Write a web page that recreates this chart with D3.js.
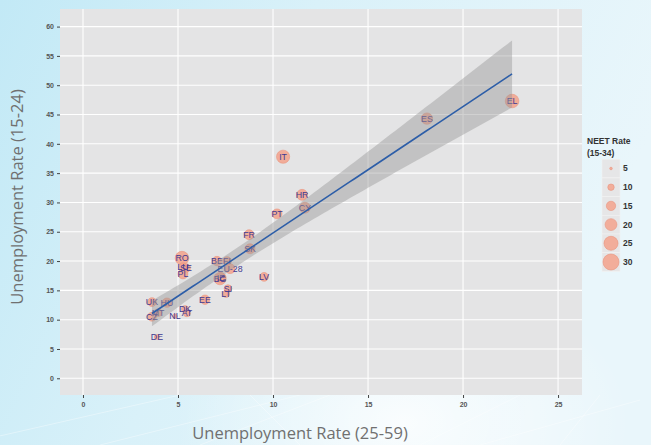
<!DOCTYPE html>
<html><head><meta charset="utf-8">
<script src="https://cdn.jsdelivr.net/npm/d3@7"></script>
<style>html,body{margin:0;padding:0;overflow:hidden}svg{display:block}</style>
</head><body>
<svg id="chart" width="651" height="445"></svg>
<script>
// ---- data ----
const countries = ["EL","ES","IT","HR","CY","PT","FR","SK","RO","BE","FI","EU-28","LU","SE","PL","BG","IE","LV","SI","LT","EE","UK","HU","DK","AT","NL","MT","CZ","DE"];
const adultRate = [22.58,18.1,10.53,11.53,11.68,10.21,8.74,8.79,5.21,7.05,7.58,7.74,5.26,5.42,5.26,7.21,7.26,9.53,7.63,7.53,6.42,3.63,4.42,5.37,5.47,4.84,3.95,3.63,3.89];
const youthRate = [47.3,44.3,37.8,31.3,29.1,28.05,24.5,22.1,20.5,20.0,20.0,18.7,19.0,18.8,17.8,17.0,17.2,17.3,15.3,14.4,13.4,13.0,12.9,11.8,11.1,10.6,11.2,10.5,7.05];
const neetRate  = [24,19,23,18,18,16,16,16,24,15,14,16,13,14,16,21,16,14,12,11,15,14,15,11,11,7,12,14,8];
const xTickValues = [0,5,10,15,20,25];
const yTickValues = [0,5,10,15,20,25,30,35,40,45,50,55,60];
const legendValues = [5,10,15,20,25,30];

const svg = d3.select("#chart");
const W = 651, H = 445;

// background
const defs = svg.append("defs");
const g1 = defs.append("linearGradient").attr("id","bg").attr("x1","0").attr("y1","0").attr("x2","1").attr("y2","0.3");
g1.append("stop").attr("offset","0").attr("stop-color","#c2e9f6");
g1.append("stop").attr("offset","0.45").attr("stop-color","#d9f1f9");
g1.append("stop").attr("offset","1").attr("stop-color","#e9f6fb");
svg.append("rect").attr("width",W).attr("height",H).attr("fill","url(#bg)");
const g2 = defs.append("radialGradient").attr("id","glow").attr("cx","0.62").attr("cy","0.95").attr("r","0.35");
g2.append("stop").attr("offset","0").attr("stop-color","#ffffff").attr("stop-opacity",0.8);
g2.append("stop").attr("offset","1").attr("stop-color","#ffffff").attr("stop-opacity",0);
svg.append("rect").attr("width",W).attr("height",H).attr("fill","url(#glow)");
// decorative streaks
const deco = svg.append("g").attr("stroke","#ffffff").attr("stroke-opacity",0.45).attr("stroke-width",0.8);
[[-40,445,180,395],[100,445,300,395],[200,445,330,395],[420,445,520,395],[480,445,640,400],[300,445,250,395],[560,445,600,395]].forEach(d=>{
  deco.append("line").attr("x1",d[0]).attr("y1",d[1]).attr("x2",d[2]).attr("y2",d[3]);
});

// panel
const P = {l:60, r:582, t:9, b:395};
const x = d3.scaleLinear().domain([-1.21, 26.26]).range([P.l, P.r]);
const y = d3.scaleLinear().domain([-2.85, 63.0]).range([P.b, P.t]);

svg.append("rect").attr("x",P.l).attr("y",P.t).attr("width",P.r-P.l).attr("height",P.b-P.t).attr("fill","#e4e4e5");

// grid
const grid = svg.append("g").attr("stroke","#ffffff").attr("stroke-width",1.1);
xTickValues.forEach(v=>grid.append("line").attr("x1",x(v)).attr("x2",x(v)).attr("y1",P.t).attr("y2",P.b));
yTickValues.forEach(v=>grid.append("line").attr("y1",y(v)).attr("y2",y(v)).attr("x1",P.l).attr("x2",P.r));

// axes
const xAxis = svg.append("g").attr("transform",`translate(0,${P.b})`)
  .call(d3.axisBottom(x).tickValues(xTickValues).tickSize(3).tickPadding(4));
const yAxis = svg.append("g").attr("transform",`translate(${P.l},0)`)
  .call(d3.axisLeft(y).tickValues(yTickValues).tickSize(3).tickPadding(3));
[xAxis,yAxis].forEach(a=>{
  a.select(".domain").remove();
  a.selectAll(".tick line").attr("stroke","#444").attr("stroke-width",1);
  a.selectAll(".tick text").attr("fill","#555").attr("font-family","Liberation Sans, Arial, sans-serif").attr("font-size",7).attr("font-weight","bold");
});

// size scale (ggplot area palette)
const r = v => 1.3 + (Math.sqrt(v)-Math.sqrt(5))/(Math.sqrt(30)-Math.sqrt(5))*(8-1.3);

// points
const data = countries.map((c,i)=>({c, x:adultRate[i], y:youthRate[i], n:neetRate[i]}));
svg.append("g").selectAll("circle").data(data).join("circle")
  .attr("cx",d=>x(d.x)).attr("cy",d=>y(d.y)).attr("r",d=>r(d.n))
  .attr("fill","#f3a28c").attr("fill-opacity",0.85).attr("stroke","#ea9580").attr("stroke-width",0.6);
svg.append("g").selectAll("text").data(data).join("text")
  .attr("x",d=>x(d.x)).attr("y",d=>y(d.y)).attr("dy","0.36em").attr("text-anchor","middle")
  .attr("font-family","Liberation Sans, Arial, sans-serif").attr("font-size",8.8)
  .attr("fill","#3f3a92").text(d=>d.c);

// linear fit with 95% CI
const n = data.length;
const mx = d3.mean(data,d=>d.x), my = d3.mean(data,d=>d.y);
const sxx = d3.sum(data,d=>(d.x-mx)**2), sxy = d3.sum(data,d=>(d.x-mx)*(d.y-my));
const b1 = sxy/sxx, b0 = my - b1*mx;
const s = Math.sqrt(d3.sum(data,d=>(d.y-b0-b1*d.x)**2)/(n-2));
const tq = 2.052;
const xmin = d3.min(adultRate), xmax = d3.max(adultRate);
const fit = d3.range(0,81).map(i=>{
  const xv = xmin + (xmax-xmin)*i/80;
  const yv = b0 + b1*xv;
  const se = s*Math.sqrt(1/n + (xv-mx)**2/sxx);
  return {x:xv, y:yv, lo:yv-tq*se, hi:yv+tq*se};
});
svg.append("path").datum(fit)
  .attr("d", d3.area().x(d=>x(d.x)).y0(d=>y(d.lo)).y1(d=>y(d.hi)))
  .attr("fill","#999999").attr("fill-opacity",0.45);
svg.append("path").datum(fit)
  .attr("d", d3.line().x(d=>x(d.x)).y(d=>y(d.y)))
  .attr("fill","none").attr("stroke","#2d5ea8").attr("stroke-width",1.6);

// axis titles
svg.append("text").attr("x",300).attr("y",439).attr("text-anchor","middle")
  .attr("font-family","Open Sans, sans-serif").attr("font-size",16.5).attr("fill","#707070")
  .text("Unemployment Rate (25-59)");
svg.append("text").attr("transform","translate(23,197) rotate(-90)").attr("text-anchor","middle")
  .attr("font-family","Open Sans, sans-serif").attr("font-size",16.5).attr("fill","#707070")
  .text("Unemployment Rate (15-24)");

// legend
const lg = svg.append("g").attr("transform","translate(587,0)");
lg.append("text").attr("x",0).attr("y",144).attr("font-family","Liberation Sans, Arial, sans-serif").attr("font-size",8.5).attr("font-weight","bold").attr("fill","#333").text("NEET Rate");
lg.append("text").attr("x",0).attr("y",156).attr("font-family","Liberation Sans, Arial, sans-serif").attr("font-size",8.5).attr("font-weight","bold").attr("fill","#333").text("(15-34)");
legendValues.forEach((v,i)=>{
  const cy = 168.5 + i*18.7;
  lg.append("rect").attr("x",15).attr("y",cy-9.3).attr("width",18).attr("height",18.7).attr("fill","#e6e6e7").attr("stroke","#f2f2f2").attr("stroke-width",0.6);
  lg.append("circle").attr("cx",24).attr("cy",cy).attr("r",r(v)).attr("fill","#f3a28c").attr("fill-opacity",0.85).attr("stroke","#ea9580").attr("stroke-width",0.6);
  lg.append("text").attr("x",36).attr("y",cy).attr("dy","0.35em").attr("font-family","Liberation Sans, Arial, sans-serif").attr("font-size",8.5).attr("font-weight","bold").attr("fill","#333").text(v);
});
</script>
</body></html>
